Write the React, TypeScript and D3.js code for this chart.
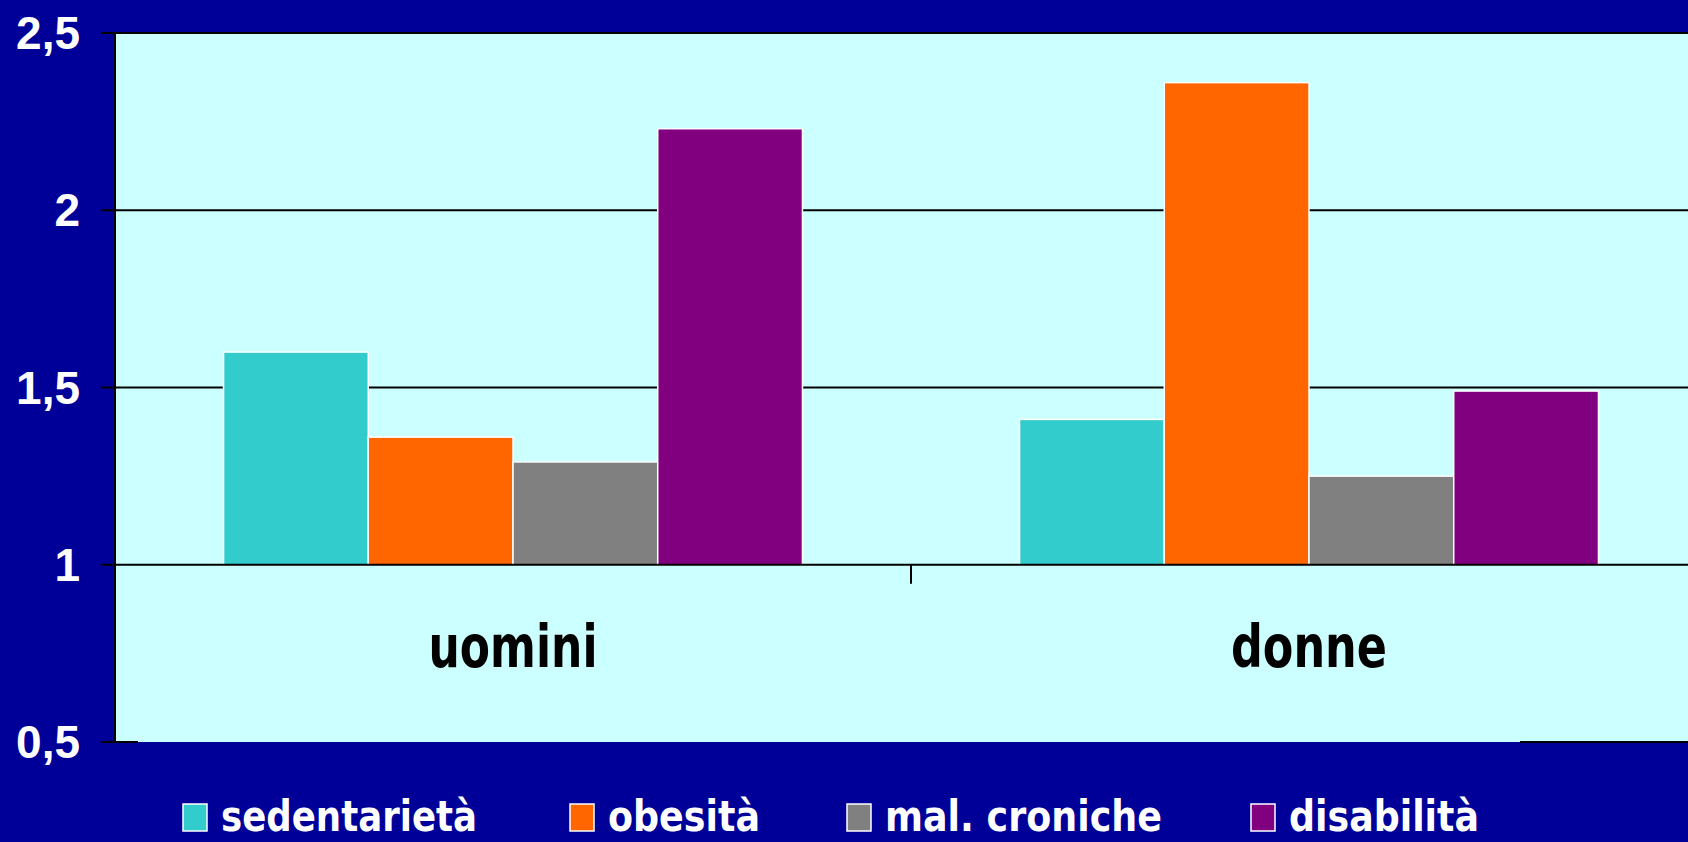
import React from "react";
import * as d3 from "d3";

const categories = ["uomini", "donne"];
const series = ["sedentarietà", "obesità", "mal. croniche", "disabilità"];
const colors = ["#33CCCC", "#FF6600", "#808080", "#800080"];
const values = [
  [1.6, 1.36, 1.29, 2.23],
  [1.41, 2.36, 1.25, 1.49],
];
const ticks = [0.5, 1, 1.5, 2, 2.5];
const tickLabels = ["0,5", "1", "1,5", "2", "2,5"];

// measured widths of the squeezed labels in the reference
const catWidths = [169, 156];
const legendWidths = [256, 152, 277, 190];
const legendX = [183, 570, 847, 1251];

const W = 1688;
const H = 842;
const left = 115;
const top = 33;
const bottom = 742;
const right = 1707;

export default function App() {
  const y = d3.scaleLinear().domain([0.5, 2.5]).range([bottom, top]);
  const x0 = d3.scaleBand().domain(categories).range([left, right]);
  const x1 = d3
    .scaleBand()
    .domain(series)
    .range([0, x0.bandwidth()])
    .paddingInner(0)
    .paddingOuter(0.75);

  const base = y(1);
  const textFont = "'DejaVu Sans', Verdana, sans-serif";

  return (
    <svg
      width={W}
      height={H}
      style={{ position: "fixed", left: 0, top: 0, display: "block" }}
    >
      <rect x={0} y={0} width={W} height={H} fill="#000099" />
      <rect x={left} y={top} width={right - left} height={bottom - top} fill="#CCFFFF" />

      {/* gridlines */}
      {ticks
        .filter((t) => t > 1)
        .map((t) => (
          <line key={t} x1={left - 14} x2={W} y1={y(t)} y2={y(t)} stroke="#000" strokeWidth={2} />
        ))}

      {/* bars */}
      {categories.map((c, ci) => (
        <g key={c} transform={`translate(${x0(c)},0)`}>
          {series.map((s, si) => (
            <rect
              key={s}
              x={x1(s)}
              y={y(values[ci][si])}
              width={x1.bandwidth()}
              height={base - y(values[ci][si])}
              fill={colors[si]}
              stroke="#fff"
              strokeWidth={1.5}
            />
          ))}
        </g>
      ))}

      {/* category axis at value 1 */}
      <line x1={left - 14} x2={W} y1={base} y2={base} stroke="#000" strokeWidth={2} />
      {categories.slice(1).map((c) => (
        <line key={c} x1={x0(c)} x2={x0(c)} y1={base} y2={base + 19} stroke="#000" strokeWidth={2} />
      ))}

      {/* value axis */}
      <line x1={left} x2={left} y1={top} y2={bottom} stroke="#000" strokeWidth={2} />
      <line x1={left - 14} x2={left} y1={bottom} y2={bottom} stroke="#000" strokeWidth={2} />
      <line x1={left} x2={138} y1={bottom} y2={bottom} stroke="#000" strokeWidth={2} />
      <line x1={1520} x2={W} y1={bottom} y2={bottom} stroke="#000" strokeWidth={2} />

      {ticks.map((t, i) => (
        <text
          key={t}
          x={80}
          y={y(t) + 16}
          textAnchor="end"
          fill="#fff"
          fontFamily="'Liberation Sans', Arial, sans-serif"
          fontWeight="bold"
          fontSize={46}
        >
          {tickLabels[i]}
        </text>
      ))}

      {categories.map((c, i) => {
        const cx = (x0(c) as number) + x0.bandwidth() / 2;
        return (
          <text
            key={c}
            x={cx - catWidths[i] / 2}
            y={667}
            fill="#000"
            fontFamily={textFont}
            fontWeight="bold"
            fontSize={58}
            textLength={catWidths[i]}
            lengthAdjust="spacingAndGlyphs"
          >
            {c}
          </text>
        );
      })}

      {/* legend */}
      {series.map((s, i) => (
        <g key={s}>
          <rect
            x={legendX[i]}
            y={804}
            width={24}
            height={27}
            fill={colors[i]}
            stroke="#fff"
            strokeWidth={1.5}
          />
          <text
            x={legendX[i] + 38}
            y={831}
            fill="#fff"
            fontFamily={textFont}
            fontWeight="bold"
            fontSize={43}
            textLength={legendWidths[i]}
            lengthAdjust="spacingAndGlyphs"
          >
            {s}
          </text>
        </g>
      ))}
    </svg>
  );
}
